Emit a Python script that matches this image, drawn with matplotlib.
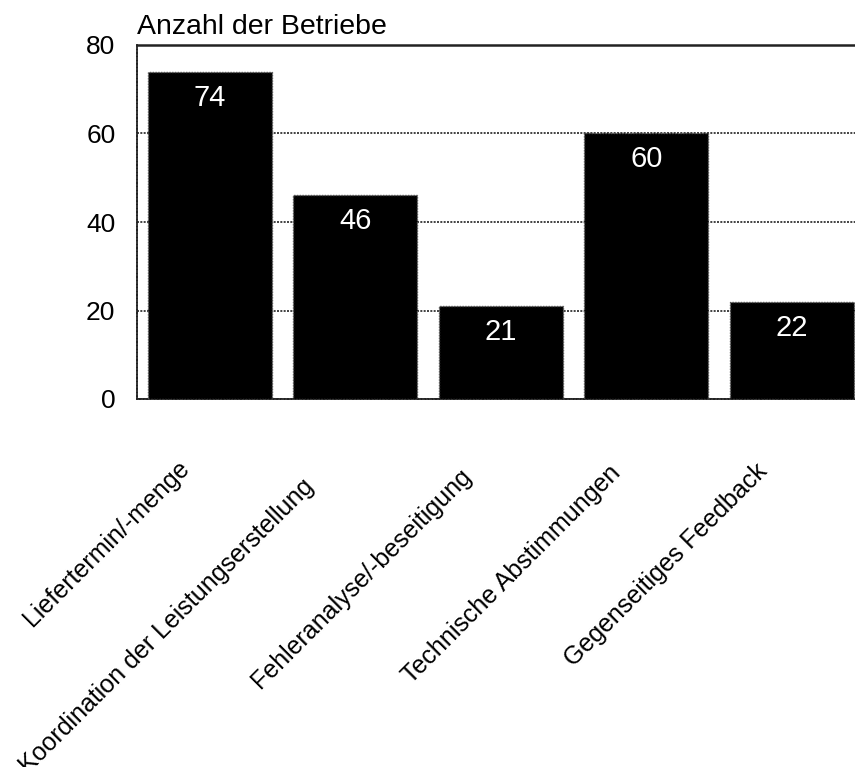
import matplotlib
matplotlib.use('Agg')
import matplotlib.pyplot as plt
from matplotlib.transforms import ScaledTranslation

categories = ["Liefertermin/-menge",
              "Koordination der Leistungserstellung",
              "Fehleranalyse/-beseitigung",
              "Technische Abstimmungen",
              "Gegenseitiges Feedback"]
values = [74, 46, 21, 60, 22]
yticks = [0, 20, 40, 60, 80]
ylabel = "Anzahl der Betriebe"

plt.rcParams['font.family'] = ['Liberation Sans', 'DejaVu Sans']

W, H = 855, 767
fig = plt.figure(figsize=(W / 100, H / 100), dpi=100)
ax = fig.add_axes([137 / W, (H - 399) / H, 727.5 / W, 354 / H])

x = list(range(len(categories)))
bars = ax.bar(x, values, width=0.852, color='black', edgecolor='#555555',
              linewidth=1, linestyle=(0, (1, 1)), zorder=3)

ax.set_xlim(-0.5, 4.5)
ax.set_ylim(0, 80)
ax.set_yticks(yticks)
ax.tick_params(axis='y', length=0, pad=15.5, labelsize=19)
ax.set_xticks(x)
ax.set_xticklabels([])
ax.tick_params(axis='x', length=0)
ax.yaxis.grid(True, color='#222222', linestyle=(0, (1.2, 0.8)), linewidth=1.2)
ax.set_axisbelow(True)

for s in ['left', 'bottom']:
    ax.spines[s].set_linestyle((0, (1.2, 0.8)))
    ax.spines[s].set_color('#222222')
    ax.spines[s].set_linewidth(1.3)
ax.spines['top'].set_color('#222222')
ax.spines['top'].set_linewidth(1.8)
ax.spines['right'].set_visible(False)

for xi, v in zip(x, values):
    ax.annotate(str(v), (xi, v), xytext=(0, -26 * 0.72), textcoords='offset points',
                ha='center', va='center', color='white', fontsize=21, zorder=4)

# rotated category labels: longer labels sit slightly further down-left
for xi, lab in zip(x, categories):
    extra = len(lab) - 19
    dx = -(33 + 1.2 * extra) / 100
    dy = -(57 + 1.1 * extra) / 100
    offset = ScaledTranslation(dx, dy, fig.dpi_scale_trans)
    ax.text(xi, 0, lab, transform=ax.get_xaxis_transform() + offset,
            rotation=45, rotation_mode='anchor', ha='right', va='top',
            fontsize=18, clip_on=False)

fig.text(137 / W, 1 - 34 / H, ylabel, ha='left', va='baseline', fontsize=20.5)

fig.savefig('out.png', dpi=100)
